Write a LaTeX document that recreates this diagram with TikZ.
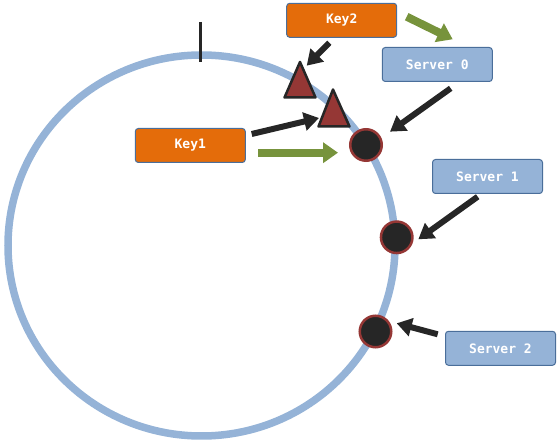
\documentclass[tikz,border=0pt]{standalone}
\usepackage{fontspec}
\setmonofont{DejaVu Sans Mono}
\usetikzlibrary{arrows.meta}
\definecolor{ringblue}{HTML}{95B3D7}
\definecolor{boxedge}{HTML}{4A6E9A}
\definecolor{keyorange}{HTML}{E46C0A}
\definecolor{darkred}{HTML}{953735}
\definecolor{nearblack}{HTML}{262626}
\definecolor{arrowgreen}{HTML}{77933C}
\begin{document}
\begin{tikzpicture}[x=1pt,y=-1pt,
    label/.style={rectangle,rounded corners=3pt,draw=boxedge,line width=1pt,
        minimum width=110pt,minimum height=34pt,inner sep=0pt,text=white,
        font=\ttfamily\bfseries\fontsize{13}{13}\selectfont},
    keybox/.style={label,fill=keyorange},
    serverbox/.style={label,fill=ringblue},
    serverdot/.style={circle,draw=darkred,fill=nearblack,line width=2.5pt,
        minimum size=31.5pt,inner sep=0pt},
    keymark/.style={draw=nearblack,fill=darkred,line width=2.5pt,line join=round},
    blackarrow/.style={draw=nearblack,line width=6pt,-{Triangle[length=15pt,width=18pt]}},
    greenarrow/.style={draw=arrowgreen,line width=8pt,-{Triangle[length=15pt,width=20pt]}}]
    \useasboundingbox (0,0) rectangle (558,443);
    % ring and its zero mark
    \draw[ringblue,line width=7.5pt] (201.5,245.5) ellipse [x radius=193.5,y radius=190.5];
    \draw[nearblack,line width=3pt] (200.3,22) -- (200.3,62);
    % keys on the ring
    \draw[keymark] (300,62) -- (315.5,97.5) -- (284.5,97.5) -- cycle;
    \draw[keymark] (333,89.5) -- (349.5,126.5) -- (318.5,126.5) -- cycle;
    % servers on the ring
    \node[serverdot] (s0) at (366,145) {};
    \node[serverdot] (s1) at (396.7,237.3) {};
    \node[serverdot] (s2) at (375.5,331.5) {};
    % labels
    \node[keybox] (key2) at (341.7,20.3) {Key2};
    \node[keybox] (key1) at (190.3,145.5) {Key1};
    \node[serverbox] (srv0) at (437.3,64.5) {Server 0};
    \node[serverbox] (srv1) at (487.5,176.5) {Server 1};
    \node[serverbox] (srv2) at (500.5,348.3) {Server 2};
    % arrow ends
    \coordinate (k2a) at (329.3,42.7);
    \coordinate (k2b) at (306.7,65.7);
    \coordinate (k2c) at (406.7,16.7);
    \coordinate (k2d) at (452.7,39.3);
    \coordinate (k1a) at (251.7,134);
    \coordinate (k1b) at (319,118);
    \coordinate (k1c) at (258,152.7);
    \coordinate (k1d) at (338,152.7);
    \coordinate (s0a) at (450.7,88.3);
    \coordinate (s0b) at (390,131.7);
    \coordinate (s1a) at (477.7,196.7);
    \coordinate (s1b) at (418.3,239.3);
    \coordinate (s2a) at (437.7,334.3);
    \coordinate (s2b) at (396.7,323.3);
    \draw[blackarrow] (k2a) -- (k2b);
    \draw[greenarrow] (k2c) -- (k2d);
    \draw[blackarrow] (k1a) -- (k1b);
    \draw[greenarrow] (k1c) -- (k1d);
    \draw[blackarrow] (s0a) -- (s0b);
    \draw[blackarrow] (s1a) -- (s1b);
    \draw[blackarrow] (s2a) -- (s2b);
\end{tikzpicture}
\end{document}
